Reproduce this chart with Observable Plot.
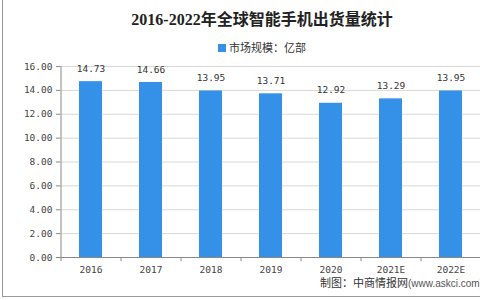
<!DOCTYPE html>
<html>
<head>
<meta charset="utf-8">
<script src="https://cdn.jsdelivr.net/npm/d3@7"></script>
<script src="https://cdn.jsdelivr.net/npm/@observablehq/plot@0.6"></script>
<style>
  html, body { margin: 0; padding: 0; background: #fff; }
  #wrap { position: relative; width: 480px; height: 300px; overflow: hidden; font-family: "Noto Sans CJK SC", sans-serif; }
  #frame { position: absolute; left: 2px; top: 0; width: 490px; height: 297px; border-left: 1px solid #9a9a9a; border-bottom: 1px solid #9a9a9a; box-sizing: border-box; }
  #title { position: absolute; left: 0; width: 524px; top: 8px; text-align: center; font: bold 16px "Liberation Serif", "Noto Sans CJK SC", serif; color: #222; line-height: 24px; white-space: nowrap; }
  #legend { position: absolute; left: 218px; top: 38px; font-size: 11px; color: #333; line-height: 18px; white-space: nowrap; }
  #legend span.sw { display: inline-block; width: 8px; height: 8px; background: #3590e8; margin-right: 3px; vertical-align: -0px; }
  #chart { position: absolute; left: 0; top: 56px; }
  #caption { position: absolute; left: 320px; top: 276px; font-size: 11px; color: #333; white-space: nowrap; line-height: 13px; }
  #caption .lat { font: 10px "Liberation Sans", sans-serif; color: #555; }
</style>
</head>
<body>
<div id="wrap">
  <div id="frame"></div>
  <div id="title"></div>
  <div id="legend"><span class="sw"></span><span id="legtext"></span></div>
  <div id="chart"></div>
  <div id="caption"><span id="capcjk"></span><span id="caplat" class="lat"></span></div>
</div>
<script>
const titleText = "2016-2022年全球智能手机出货量统计";
const seriesName = "市场规模：亿部";
const captionText = "制图：中商情报网(www.askci.com)";
const years = ["2016", "2017", "2018", "2019", "2020", "2021E", "2022E"];
const values = [14.73, 14.66, 13.95, 13.71, 12.92, 13.29, 13.95];
const yTicks = [0, 2, 4, 6, 8, 10, 12, 14, 16];

document.getElementById("title").textContent = titleText;
document.getElementById("legtext").textContent = seriesName;
const cut = captionText.indexOf("(");
document.getElementById("capcjk").textContent = captionText.slice(0, cut);
document.getElementById("caplat").textContent = captionText.slice(cut);

const data = years.map((y, i) => ({year: y, value: values[i]}));
const mono = "DejaVu Sans Mono, monospace";

const chart = Plot.plot({
  width: 480,
  height: 244,
  marginTop: 10,
  marginBottom: 43,
  marginLeft: 60,
  marginRight: 0,
  style: {background: "transparent", fontFamily: mono, fontSize: "9.5px", color: "#444"},
  x: {domain: years, paddingInner: 0.62, paddingOuter: 0.31, axis: null},
  y: {domain: [0, 16], axis: null},
  marks: [
    Plot.gridY(yTicks, {stroke: "#d8d8d8", strokeOpacity: 1}),
    Plot.barY(data, {x: "year", y: "value", fill: "#3590e8"}),
    Plot.text(data, {x: "year", y: "value", text: d => d.value.toFixed(2), dy: -13, fontSize: 9.5, fill: "#333", fontFamily: mono}),
    Plot.ruleY([0], {stroke: "#888"}),
    Plot.ruleX([years[0]], {x: d => d, dx: -30, y1: -0.35, y2: 16, stroke: "#888"}),
    Plot.ruleX(years, {x: d => d, dx: 30, y1: 0, y2: -0.35, stroke: "#888"}),
    Plot.axisY(yTicks, {tickFormat: d => d.toFixed(2), tickSize: 4, tickPadding: 4, stroke: "#888", fill: "#444", fontFamily: mono, fontSize: 9.5, label: null}),
    Plot.axisX(years, {tickSize: 0, tickPadding: 9, fill: "#444", fontFamily: mono, fontSize: 9.5, label: null})
  ]
});
document.getElementById("chart").appendChild(chart);
</script>
</body>
</html>
